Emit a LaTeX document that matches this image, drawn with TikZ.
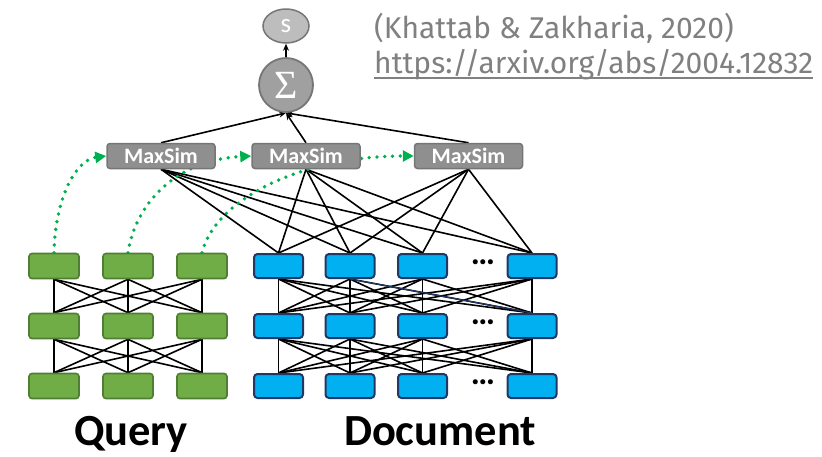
\documentclass[tikz,border=0pt]{standalone}
\usepackage{fontspec}
\usetikzlibrary{arrows.meta,calc,shapes.geometric}
\newfontfamily\labelfont{Carlito}
\newfontfamily\citefont{Fira Sans}
\newfontfamily\sigmafont{Liberation Serif}
\definecolor{qfill}{HTML}{70AD47}
\definecolor{qedge}{HTML}{507E32}
\definecolor{dfill}{HTML}{00B0F0}
\definecolor{dedge}{HTML}{1F3864}
\definecolor{msfill}{HTML}{8F8F8F}
\definecolor{msedge}{HTML}{767676}
\definecolor{sigfill}{HTML}{A0A0A0}
\definecolor{sfill}{HTML}{BDBDBD}
\definecolor{dotgreen}{HTML}{00B050}
\definecolor{citegray}{HTML}{808080}
\pgfdeclarelayer{bg}
\pgfsetlayers{bg,main}
\begin{document}
\begin{tikzpicture}[x=1pt,y=-1pt,
  qbox/.style={draw=qedge, fill=qfill, line width=1.6pt, rounded corners=3pt,
    minimum width=50pt, minimum height=25pt, inner sep=0pt},
  dbox/.style={draw=dedge, fill=dfill, line width=2pt, rounded corners=3.5pt,
    minimum width=49pt, minimum height=24pt, inner sep=0pt},
  msbox/.style={draw=msedge, fill=msfill, line width=1.5pt, rounded corners=3pt,
    minimum width=108pt, minimum height=25pt, inner sep=0pt, text=white,
    font=\labelfont\bfseries\fontsize{22}{22}\selectfont},
  link/.style={black, line width=1.6pt},
  uplink/.style={link, -{Stealth[length=7pt,width=6pt]}},
  hop/.style={dotgreen, line width=3.8pt, line cap=round, dash pattern=on 0pt off 7.8pt,
    -{Triangle[length=11pt,width=11pt,sharp]}},
  more/.style={font=\labelfont\bfseries\fontsize{34}{34}\selectfont, inner sep=0pt},
  biglabel/.style={font=\labelfont\bfseries\fontsize{44.5}{44.5}\selectfont, anchor=base, inner sep=0pt},
  cite/.style={font=\citefont\fontsize{30}{30}\selectfont, text=citegray, anchor=base west, inner sep=0pt}
]
\path[use as bounding box] (0,0) rectangle (822,456);

% query encoder: three rows of three tokens
\foreach \r/\y in {1/266,2/326,3/386}{
  \foreach \c/\x in {1/54,2/128,3/202}{
    \node[qbox] (q-\r-\c) at (\x,\y) {};
  }
  % document encoder: four visible columns per row
  \foreach \c/\x in {1/278.5,2/350,3/422.5,4/532}{
    \node[dbox] (d-\r-\c) at (\x,\y) {};
  }
  \node[more] (dots-\r) at (483,\y-4) {…};
}

% MaxSim operators, sum and score
\node[msbox] (ms-1) at (161,156) {MaxSim};
\node[msbox] (ms-2) at (306,156) {MaxSim};
\node[msbox] (ms-3) at (468.5,156) {MaxSim};
\node[circle, draw=msedge, fill=sigfill, line width=1.8pt, minimum size=54pt, inner sep=0pt,
  text=white, font=\sigmafont\fontsize{40}{40}\selectfont] (sum) at (286,85) {Σ};
\node[ellipse, draw=msedge, fill=sfill, line width=1.5pt, minimum width=46pt, minimum height=34pt,
  inner sep=0pt, text=white, font=\labelfont\fontsize{27}{27}\selectfont] (score) at (286,26) {s};

\begin{pgfonlayer}{bg}
  % fully connected layers inside each encoder
  \foreach \r/\n in {1/2,2/3}{
    \foreach \i in {1,2,3}{
      \foreach \j in {1,2,3}{
        \draw[link] (q-\r-\i.south) -- (q-\n-\j.north);
      }
    }
    \foreach \i in {1,2,3,4}{
      \foreach \j in {1,2,3,4}{
        \draw[link] (d-\r-\i.south) -- (d-\n-\j.north);
      }
    }
  }
  \draw[dedge, line width=1.2pt] (d-1-2.south) -- (d-2-4.north);
  % every MaxSim sees every document token
  \foreach \m in {1,2,3}{
    \foreach \j in {1,2,3,4}{
      \draw[link] (ms-\m.south) -- (d-1-\j.north);
    }
    \draw[uplink] (ms-\m.north) -- (sum.south);
  }
  \draw[uplink] (sum.north) -- (score.south);
  % query tokens feed their MaxSim
  \draw[hop] (q-1-1.north) .. controls (55,200) and (75,160) .. (ms-1.west);
  \draw[hop] (q-1-2.north) .. controls (135,205) and (175,160) .. (ms-2.west);
  \draw[hop] (q-1-3.north) .. controls (215,200) and (300,156) .. (ms-3.west);
\end{pgfonlayer}

% captions
\node[biglabel] (qlabel) at (131,445) {Query};
\node[biglabel] (dlabel) at (440,445) {Document};

% reference
\node[cite] (ref) at (374,38) {(Khattab \& Zakharia, 2020)};
\node[cite] (url) at (374,73) {https://arxiv.org/abs/2004.12832};
\draw[citegray, line width=1.4pt] ([yshift=-5pt]url.base west) -- ([yshift=-5pt]url.base east);
\end{tikzpicture}
\end{document}
